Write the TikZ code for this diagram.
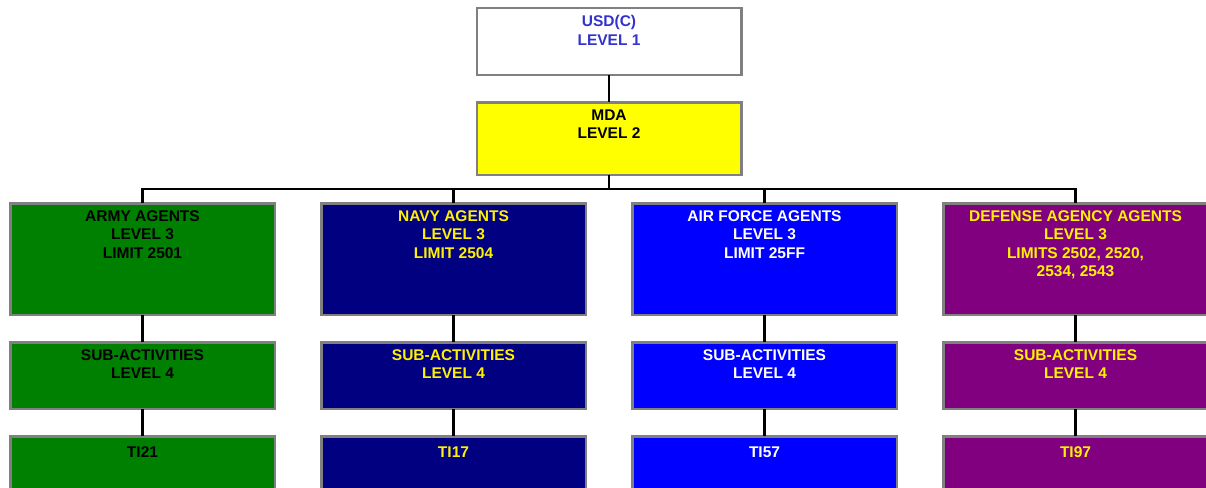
\documentclass[tikz,border=0pt]{standalone}
\usepackage{fontspec}
\setmainfont{Liberation Sans}
\definecolor{boxgray}{RGB}{128,128,128}
\definecolor{usdblue}{RGB}{51,51,204}
\definecolor{armygreen}{RGB}{0,128,0}
\definecolor{navyblue}{RGB}{0,0,128}
\definecolor{afblue}{RGB}{0,0,255}
\definecolor{dapurple}{RGB}{128,0,128}
\definecolor{mdayellow}{RGB}{255,255,0}
\begin{document}
\begin{tikzpicture}[x=1pt,y=-1pt,
  orgbox/.style={draw=boxgray, line width=2.5pt, minimum width=264.5pt, inner sep=0pt, outer sep=0pt},
  lbl/.style={anchor=north, inner sep=0pt, align=center, font=\bfseries\fontsize{15.5}{18.4}\selectfont,
    execute at begin node={\rule{0pt}{14pt}}},
  conn/.style={draw=black, line width=2.5pt}]
\useasboundingbox (0,0) rectangle (1206,487);
% top levels
\node[orgbox, fill=white, minimum height=66.5pt] (usd) at (609,41.5) {};
\node[lbl, text=usdblue] (usdt) at ([yshift=-7pt]usd.north) {USD(C)\\LEVEL 1};
\node[orgbox, fill=mdayellow, minimum height=72.5pt] (mda) at (609,138.5) {};
\node[lbl, text=black] (mdat) at ([yshift=-7pt]mda.north) {MDA\\LEVEL 2};
% level 3
\node[orgbox, fill=armygreen, minimum height=111.5pt] (army) at (142.5,259) {};
\node[orgbox, fill=navyblue, minimum height=111.5pt] (navy) at (453.5,259) {};
\node[orgbox, fill=afblue, minimum height=111.5pt] (af) at (764.5,259) {};
\node[orgbox, fill=dapurple, minimum height=111.5pt] (da) at (1075.5,259) {};
\node[lbl, text=black] (armyt) at ([yshift=-7pt]army.north) {ARMY AGENTS\\LEVEL 3\\LIMIT 2501};
\node[lbl, text=yellow] (navyt) at ([yshift=-7pt]navy.north) {NAVY AGENTS\\LEVEL 3\\LIMIT 2504};
\node[lbl, text=white] (aft) at ([yshift=-7pt]af.north) {AIR FORCE AGENTS\\LEVEL 3\\LIMIT 25FF};
\node[lbl, text=yellow] (dat) at ([yshift=-7pt]da.north) {DEFENSE AGENCY AGENTS\\LEVEL 3\\LIMITS 2502, 2520,\\2534, 2543};
% level 4
\node[orgbox, fill=armygreen, minimum height=66.5pt] (armys) at (142.5,375.5) {};
\node[orgbox, fill=navyblue, minimum height=66.5pt] (navys) at (453.5,375.5) {};
\node[orgbox, fill=afblue, minimum height=66.5pt] (afs) at (764.5,375.5) {};
\node[orgbox, fill=dapurple, minimum height=66.5pt] (das) at (1075.5,375.5) {};
\node[lbl, text=black] (armyst) at ([yshift=-7pt]armys.north) {SUB-ACTIVITIES\\LEVEL 4};
\node[lbl, text=yellow] (navyst) at ([yshift=-7pt]navys.north) {SUB-ACTIVITIES\\LEVEL 4};
\node[lbl, text=white] (afst) at ([yshift=-7pt]afs.north) {SUB-ACTIVITIES\\LEVEL 4};
\node[lbl, text=yellow] (dast) at ([yshift=-7pt]das.north) {SUB-ACTIVITIES\\LEVEL 4};
% level 5
\node[orgbox, fill=armygreen, minimum height=66.5pt] (armyti) at (142.5,469.5) {};
\node[orgbox, fill=navyblue, minimum height=66.5pt] (navyti) at (453.5,469.5) {};
\node[orgbox, fill=afblue, minimum height=66.5pt] (afti) at (764.5,469.5) {};
\node[orgbox, fill=dapurple, minimum height=66.5pt] (dati) at (1075.5,469.5) {};
\node[lbl, text=black] (armytit) at ([yshift=-7pt]armyti.north) {TI21};
\node[lbl, text=yellow] (navytit) at ([yshift=-7pt]navyti.north) {TI17};
\node[lbl, text=white] (aftit) at ([yshift=-7pt]afti.north) {TI57};
\node[lbl, text=yellow] (datit) at ([yshift=-7pt]dati.north) {TI97};
% connectors
\coordinate (bus) at (609,189);
\draw[conn] (usd.south) -- (mda.north);
\draw[conn] (mda.south) -- (bus);
\draw[conn] (bus) -| (army.north);
\draw[conn] (bus) -| (navy.north);
\draw[conn] (bus) -| (af.north);
\draw[conn] (bus) -| (da.north);
\draw[conn] (army.south) -- (armys.north);
\draw[conn] (navy.south) -- (navys.north);
\draw[conn] (af.south) -- (afs.north);
\draw[conn] (da.south) -- (das.north);
\draw[conn] (armys.south) -- (armyti.north);
\draw[conn] (navys.south) -- (navyti.north);
\draw[conn] (afs.south) -- (afti.north);
\draw[conn] (das.south) -- (dati.north);
\end{tikzpicture}
\end{document}
